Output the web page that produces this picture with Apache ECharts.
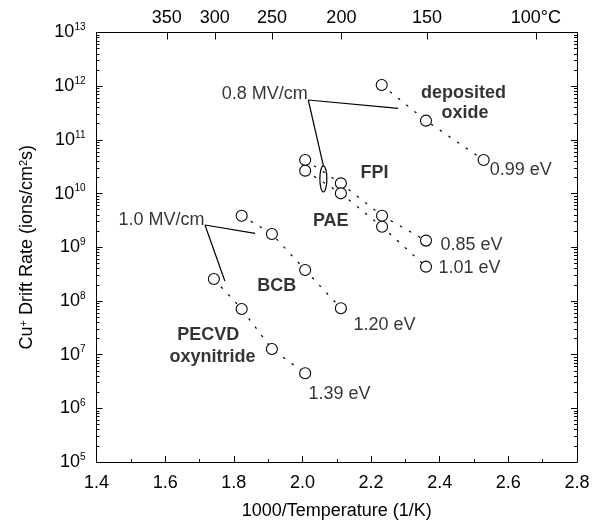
<!DOCTYPE html>
<html>
<head>
<meta charset="utf-8">
<title>Cu+ drift rate vs 1000/T</title>
<script src="https://cdn.jsdelivr.net/npm/echarts@6/dist/echarts.min.js"></script>
<style>
  html, body { margin: 0; padding: 0; background: #fff; }
  #chart { width: 600px; height: 527px; }
</style>
</head>
<body>
<div id="chart"></div>
<script>
// values: x = 1000/T (1/K), y = Cu+ drift rate (ions/cm2 s)
var oxideX = [2.231, 2.360, 2.528];
var oxideY = [1.05e12, 2.28e11, 4.22e10];
var fpiX = [2.008, 2.112, 2.232, 2.360];
var fpiY = [4.22e10, 1.55e10, 3.87e9, 1.33e9];
var paeX = [2.008, 2.112, 2.232, 2.360];
var paeY = [2.67e10, 1.01e10, 2.41e9, 4.35e8];
var bcbX = [1.823, 1.911, 2.008, 2.112];
var bcbY = [3.87e9, 1.77e9, 3.77e8, 7.3e7];
var pecvdX = [1.742, 1.823, 1.911, 2.008];
var pecvdY = [2.56e8, 7.08e7, 1.27e7, 4.49e6];

// axes
var xTicks = [1.4, 1.6, 1.8, 2.0, 2.2, 2.4, 2.6, 2.8];
var tempTicks = [350, 300, 250, 200, 150, 100];   // deg C, top axis
var yExponents = [5, 6, 7, 8, 9, 10, 11, 12, 13];

// annotations (text, x, y in data units)
var boldNotes = [
  ['deposited', 2.344, 7.47e11],
  ['oxide', 2.404, 3.21e11],
  ['FPI', 2.168, 2.42e10],
  ['PAE', 2.029, 3.05e9],
  ['BCB', 1.867, 1.88e8],
  ['PECVD', 1.634, 2.32e7],
  ['oxynitride', 1.611, 9.16e6]
];
var energyNotes = [
  ['0.99 eV', 2.544, 2.73e10],
  ['0.85 eV', 2.401, 1.10e9],
  ['1.01 eV', 2.395, 4.11e8],
  ['1.20 eV', 2.147, 3.56e7],
  ['1.39 eV', 2.016, 1.85e6]
];
var fieldNotes = [
  ['0.8 MV/cm', 2.017, 7.15e11],
  ['1.0 MV/cm', 1.716, 3.22e9]
];
// leader lines from the field labels
var leader1 = [[2.017, 5.53e11], [2.279, 3.87e11]];
var leader2 = [[2.017, 5.53e11], [2.061, 3.3e10]];
var leader3 = [[1.716, 2.6e9], [1.862, 1.82e9]];
var leader4 = [[1.716, 2.6e9], [1.774, 2.35e8]];
var ringCenter = [[2.061, 1.87e10]];

var FONT = 'Liberation Sans, Arial, Helvetica, sans-serif';
var BLACK = '#000';

function pairs(xs, ys) {
  return xs.map(function (x, i) { return [x, ys[i]]; });
}

var minorLog = [];
for (var e = yExponents[0]; e < yExponents[yExponents.length - 1]; e++) {
  for (var k = 2; k <= 9; k++) minorLog.push(e + Math.log10(k));
}
var tempPos = tempTicks.map(function (t) { return 1000 / (t + 273.15); });

function dataSeries(name, xs, ys) {
  return {
    name: name, type: 'line', data: pairs(xs, ys),
    symbol: 'circle', symbolSize: 11, showSymbol: true,
    itemStyle: { color: '#fff', borderColor: BLACK, borderWidth: 1.1 },
    lineStyle: { color: BLACK, width: 1.2, type: [2.5, 8] },
    z: 4, silent: true
  };
}

function leaderSeries(pts) {
  return {
    type: 'line', data: pts, symbol: 'none', silent: true, z: 3,
    lineStyle: { color: BLACK, width: 1.2 }
  };
}

function notes(list, extra) {
  return list.map(function (n) {
    return { name: n[0], value: [n[1], n[2]], label: extra };
  });
}

var chart = echarts.init(document.getElementById('chart'));

chart.setOption({
  animation: false,
  backgroundColor: '#fff',
  textStyle: { fontFamily: FONT, color: BLACK },
  grid: { left: 96.5, right: 23, top: 32.5, bottom: 65, containLabel: false },
  xAxis: [
    {
      type: 'value', position: 'bottom',
      min: xTicks[0], max: xTicks[xTicks.length - 1], interval: 0.2,
      axisLine: { lineStyle: { color: BLACK, width: 1 } },
      axisTick: { inside: true, length: 6, lineStyle: { color: BLACK } },
      minorTick: { show: true, splitNumber: 2, length: 3, lineStyle: { color: BLACK } },
      axisLabel: {
        margin: 12, fontSize: 18, color: BLACK, fontFamily: FONT,
        formatter: function (v) { return v.toFixed(1); }
      },
      splitLine: { show: false },
      name: '1000/Temperature (1/K)', nameLocation: 'middle', nameGap: 40,
      nameTextStyle: { fontSize: 18, color: BLACK, fontFamily: FONT }
    },
    {
      type: 'value', position: 'top',
      min: xTicks[0], max: xTicks[xTicks.length - 1],
      axisLine: { lineStyle: { color: BLACK, width: 1 } },
      axisTick: { inside: true, length: 7, customValues: tempPos, lineStyle: { color: BLACK } },
      axisLabel: {
        margin: 5, fontSize: 18, color: BLACK, fontFamily: FONT,
        customValues: tempPos,
        formatter: function (v) {
          for (var i = 0; i < tempPos.length; i++) {
            if (Math.abs(tempPos[i] - v) < 1e-6) {
              return i === tempPos.length - 1 ? tempTicks[i] + '°C' : String(tempTicks[i]);
            }
          }
          return '';
        }
      },
      splitLine: { show: false }
    }
  ],
  yAxis: [
    {
      type: 'log', logBase: 10, position: 'left',
      min: Math.pow(10, yExponents[0]), max: Math.pow(10, yExponents[yExponents.length - 1]),
      splitNumber: 8,
      axisLine: { lineStyle: { color: BLACK, width: 1 } },
      axisTick: { inside: true, length: 6, lineStyle: { color: BLACK } },
      axisLabel: {
        margin: 11, color: BLACK, fontFamily: FONT,
        formatter: function (v) {
          return '{b|10}{s|' + Math.round(Math.log10(v)) + '}';
        },
        rich: {
          b: { fontSize: 18, lineHeight: 20, color: BLACK, fontFamily: FONT },
          s: { fontSize: 10, lineHeight: 11, verticalAlign: 'top', color: BLACK, fontFamily: FONT }
        }
      },
      splitLine: { show: false },
      name: 'Cu{s|+} Drift Rate (ions/cm{s|2}s)', nameLocation: 'middle', nameGap: 60,
      nameTextStyle: {
        fontSize: 18, color: BLACK, fontFamily: FONT,
        rich: { s: { fontSize: 11, lineHeight: 12, verticalAlign: 'top', color: BLACK, fontFamily: FONT } }
      }
    },
    {
      type: 'log', logBase: 10, position: 'right',
      min: Math.pow(10, yExponents[0]), max: Math.pow(10, yExponents[yExponents.length - 1]),
      splitNumber: 8,
      axisLine: { lineStyle: { color: BLACK, width: 1 } },
      axisTick: { inside: true, length: 6, lineStyle: { color: BLACK } },
      axisLabel: { show: false },
      splitLine: { show: false }
    },
    {
      type: 'value', position: 'left', min: yExponents[0], max: yExponents[yExponents.length - 1],
      axisLine: { show: false },
      axisTick: { inside: true, length: 3, customValues: minorLog, lineStyle: { color: BLACK } },
      axisLabel: { show: false },
      splitLine: { show: false }
    },
    {
      type: 'value', position: 'right', min: yExponents[0], max: yExponents[yExponents.length - 1],
      axisLine: { show: false },
      axisTick: { inside: true, length: 3, customValues: minorLog, lineStyle: { color: BLACK } },
      axisLabel: { show: false },
      splitLine: { show: false }
    }
  ],
  series: [
    dataSeries('deposited oxide', oxideX, oxideY),
    dataSeries('FPI', fpiX, fpiY),
    dataSeries('PAE', paeX, paeY),
    dataSeries('BCB', bcbX, bcbY),
    dataSeries('PECVD oxynitride', pecvdX, pecvdY),
    leaderSeries(leader1),
    leaderSeries(leader2),
    leaderSeries(leader3),
    leaderSeries(leader4),
    {
      type: 'custom', silent: true, z: 3,
      data: ringCenter,
      renderItem: function (params, api) {
        var p = api.coord([api.value(0), api.value(1)]);
        return {
          type: 'ellipse',
          shape: { cx: p[0], cy: p[1], rx: 3.5, ry: 13 },
          style: { fill: null, stroke: BLACK, lineWidth: 1.2 }
        };
      }
    },
    {
      type: 'scatter', silent: true, symbolSize: 1, z: 5,
      itemStyle: { color: 'rgba(0,0,0,0)' },
      label: {
        show: true, formatter: '{b}', position: 'right', distance: 0,
        fontSize: 18, color: BLACK, fontFamily: FONT
      },
      data: notes(boldNotes, { fontWeight: 'bold', color: BLACK })
        .concat(notes(energyNotes, { color: BLACK }))
        .concat(notes(fieldNotes, { position: 'left', color: BLACK }))
    }
  ]
});
</script>
</body>
</html>
